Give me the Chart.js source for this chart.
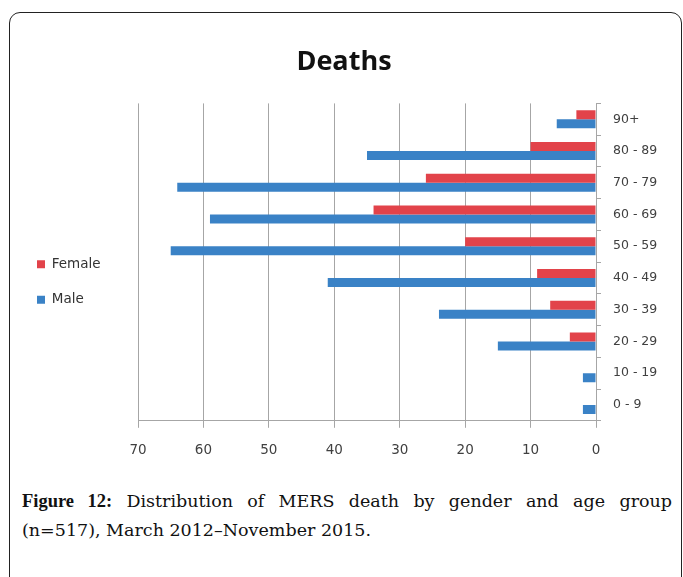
<!DOCTYPE html>
<html><head><meta charset="utf-8">
<script src="https://cdn.jsdelivr.net/npm/chart.js@4/dist/chart.umd.min.js"></script>
<style>
html,body{margin:0;padding:0;background:#fff;width:683px;height:577px;overflow:hidden;}
#frame{position:absolute;left:9px;top:12px;width:673px;height:620px;border:1.5px solid #222;border-radius:11px;box-sizing:border-box;}
#wrap{position:absolute;left:0;top:0;width:683px;height:475px;}
#cap{position:absolute;left:22px;top:487px;width:650px;font-family:"DejaVu Serif",serif;font-size:17.5px;line-height:29px;color:#111;}
#cap .l1{display:block;text-align:justify;text-align-last:justify;white-space:nowrap;}
#cap .l2{display:block;}
#cap b{font-family:"Liberation Serif",serif;font-size:18.5px;font-weight:bold;}
</style></head>
<body>
<div id="frame"></div>
<div id="wrap"><canvas id="c" width="683" height="475"></canvas></div>
<div id="cap"><span class="l1"><b>Figure 12:</b> Distribution of MERS death by gender and age group</span><span class="l2">(n=517), March 2012&ndash;November 2015.</span></div>
<script>
const ageGroups = ['90+', '80 - 89', '70 - 79', '60 - 69', '50 - 59', '40 - 49', '30 - 39', '20 - 29', '10 - 19', '0 - 9'];
const femaleDeaths = [3, 10, 26, 34, 20, 9, 7, 4, 0, 0];
const maleDeaths = [6, 35, 64, 59, 65, 41, 24, 15, 2, 2];
const seriesNames = ['Female', 'Male'];
const xMin = 0, xMax = 70, xStep = 10;

Chart.defaults.font.family = '"DejaVu Sans", sans-serif';

const legendWidthPlugin = {
  id: 'legendWidth',
  beforeLayout(chart) {
    const lg = chart.legend;
    if (lg && !lg._patched) {
      const orig = lg.fit;
      lg.fit = function () { orig.call(this); if (!this.isHorizontal()) this.width = 123; };
      lg._patched = true;
    }
  }
};

new Chart(document.getElementById('c'), {
  type: 'bar',
  data: {
    labels: ageGroups,
    datasets: [
      { label: seriesNames[0], data: femaleDeaths, backgroundColor: '#E2434A', categoryPercentage: 0.57, barPercentage: 1.0 },
      { label: seriesNames[1], data: maleDeaths, backgroundColor: '#3A82C6', categoryPercentage: 0.57, barPercentage: 1.0 }
    ]
  },
  options: {
    indexAxis: 'y',
    responsive: false,
    animation: false,
    layout: { padding: { top: 10, right: 10, bottom: 1, left: 15 } },
    plugins: {
      title: { display: true, text: 'Deaths', color: '#111', font: { family: '"Open Sans", sans-serif', size: 27, weight: 'bold' }, padding: { top: 36, bottom: 25 } },
      legend: {
        position: 'left',
        title: { display: true, text: ' ', font: { size: 10 }, padding: { top: 34, bottom: 34 } },
        labels: { boxWidth: 8, boxHeight: 8, padding: 22, color: '#333', font: { size: 13.5 } }
      },
      tooltip: { enabled: false }
    },
    scales: {
      x: {
        reverse: true, min: xMin, max: xMax,
        ticks: { stepSize: xStep, color: '#404040', font: { size: 13.5 }, padding: 15 },
        grid: { color: '#a6a6a6', lineWidth: 1, tickLength: 7 },
        border: { color: '#a6a6a6' }
      },
      y: {
        position: 'right',
        afterFit(s) { s.width = 77; },
        ticks: { color: '#404040', font: { size: 12.5 }, padding: 12, crossAlign: 'near' },
        grid: { drawOnChartArea: false, tickLength: 5, color: '#a6a6a6', offset: true },
        border: { color: '#a6a6a6' }
      }
    }
  },
  plugins: [legendWidthPlugin]
});
</script>
</body></html>
